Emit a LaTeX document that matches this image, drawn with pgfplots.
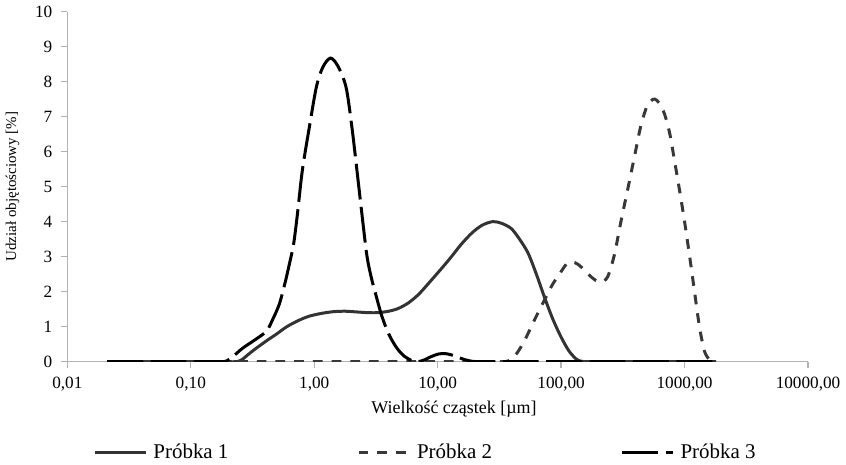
\documentclass[border=0pt]{standalone}
\usepackage{fontspec}
\setmainfont{Liberation Serif}
\usepackage{pgfplots}
\pgfplotsset{compat=1.18}

% particle size distributions
\pgfplotstableread{
x y
0.021 0
0.05 0
0.1 0
0.15 0
0.2 0
0.235 0
0.26 0.06
0.3 0.24
0.35 0.42
0.42 0.62
0.5 0.8
0.6 1.0
0.75 1.18
0.912 1.3
1.15 1.38
1.45 1.43
1.8 1.44
2.2 1.42
2.7 1.40
3.3 1.40
4.0 1.44
4.8 1.52
5.8 1.68
7.0 1.92
8.5 2.25
10.5 2.62
12.8 2.98
15.5 3.35
19 3.68
23 3.9
28 4.0
33 3.95
39.5 3.8
46 3.5
54 3.1
63 2.5
74 1.8
86 1.2
100 0.7
115 0.32
130 0.1
142 0.02
160 0
200 0
300 0
500 0
800 0
1200 0
1800 0
}\probkaA

\pgfplotstableread{
x y
0.021 0
0.1 0
0.5 0
2 0
6 0
12 0
20 0
27 0
33 0
38 0.03
44 0.25
51 0.63
61 1.2
74 1.79
85 2.2
97 2.5
110 2.78
122 2.85
137 2.78
156 2.6
178 2.4
200 2.28
220 2.3
240 2.45
270 3.05
305 4.0
350 5.0
395 5.9
440 6.7
490 7.25
535 7.45
573 7.5
625 7.38
690 7.06
760 6.5
830 5.73
920 4.8
1000 4.0
1100 3.0
1205 1.99
1320 1.0
1449 0.3
1600 0.05
1745 0
1800 0
}\probkaB

\pgfplotstableread{
x y
0.021 0
0.05 0
0.1 0
0.14 0
0.175 0
0.195 0.02
0.22 0.15
0.262 0.38
0.33 0.62
0.41 0.87
0.46 1.2
0.522 1.65
0.58 2.25
0.63 2.8
0.68 3.35
0.729 4.18
0.80 5.45
0.912 6.69
1.04 7.84
1.17 8.4
1.35 8.67
1.55 8.45
1.81 7.84
2.02 6.69
2.22 5.45
2.44 4.18
2.67 3.03
2.9 2.4
3.16 1.9
3.53 1.3
4.0 0.8
4.6 0.42
5.3 0.17
6.1 0.04
6.9 0
7.8 0.05
8.8 0.14
10.2 0.22
11.5 0.23
12.7 0.2
14.5 0.13
16.5 0.06
19 0.01
22 0
30 0
50 0
100 0
200 0
500 0
1000 0
1800 0
}\probkaC

\begin{document}
\fontsize{11.5}{13}\selectfont
\begin{tikzpicture}
\begin{axis}[
    scale only axis,
    width=495pt, height=234pt,
    xmode=log,
    xmin=0.01, xmax=10000,
    ymin=0, ymax=10,
    axis lines=left,
    axis line style={gray!60, line width=0.9pt, -},
    xtick={0.01,0.1,1,10,100,1000,10000},
    xticklabels={{0,01},{0,10},{1,00},{10,00},{100,00},{1000,00},{10000,00}},
    xminorticks=false,
    ytick={0,1,...,10},
    tick align=outside,
    major tick length=4pt,
    tick style={gray!60, line width=0.9pt},
    /pgf/number format/assume math mode=true,
    xticklabel style={yshift=-2pt},
    yticklabel style={xshift=-2pt},
    xlabel={Wielkość cząstek [µm]},
    ylabel={Udział objętościowy [\%]},
    xlabel style={at={(axis description cs:0.522,-0.137)}, anchor=center,
        font=\fontsize{12}{14}\selectfont},
    ylabel style={at={(axis description cs:-0.074,0.5)}, anchor=center,
        font=\fontsize{10}{12}\selectfont},
    legend columns=3,
    legend style={at={(0.035,-0.26)}, anchor=west, draw=none, inner sep=0pt,
        font=\fontsize{14}{16}\selectfont,
        /tikz/every odd column/.append style={column sep=2pt},
        /tikz/every even column/.append style={column sep=84pt}},
    legend image code/.code={\draw[#1] (0pt,0pt) -- (34pt,0pt);},
    legend cell align=left,
]
\addplot[black!80, line width=2pt, smooth, tension=0.5] table {\probkaA};
\addlegendentry{Próbka 1}
\addplot[black!78, line width=2pt, smooth, tension=0.5, dash pattern=on 6.5pt off 6pt] table {\probkaB};
\addlegendentry{Próbka 2}
\addplot[black, line width=2pt, smooth, tension=0.5, dash pattern=on 24pt off 5pt] table {\probkaC};
\addlegendentry{Próbka 3}
\end{axis}
\end{tikzpicture}
\end{document}
